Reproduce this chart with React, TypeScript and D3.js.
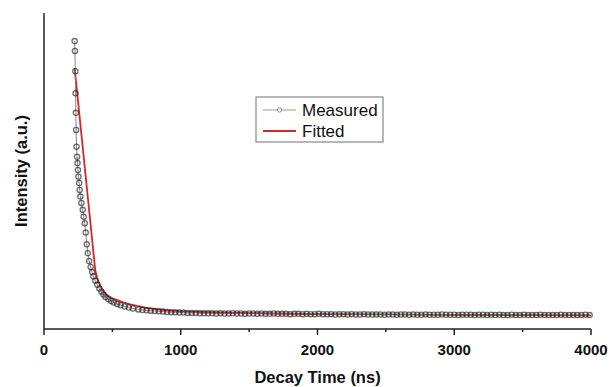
import React from 'react';
import * as d3 from 'd3';

// measured decay, steep part read point by point (ns, a.u.)
const measuredTime = [
  224, 226, 229, 231, 233, 235, 238, 242, 245, 248, 252, 257, 261, 266, 273, 283, 290, 298,
  305, 313, 320, 330, 341, 352, 361, 375, 390, 405, 420, 435, 450, 470, 490, 510, 535, 560,
  590, 620, 650, 690,
];
const measuredIntensity = [
  0.911, 0.880, 0.816, 0.746, 0.684, 0.630, 0.577, 0.545, 0.525, 0.503, 0.482, 0.462, 0.440,
  0.419, 0.399, 0.377, 0.355, 0.335, 0.305, 0.268, 0.240, 0.215, 0.196, 0.180, 0.166, 0.153,
  0.140, 0.128, 0.118, 0.109, 0.101, 0.095, 0.089, 0.084, 0.079, 0.075, 0.071, 0.068, 0.065,
  0.062,
];

// flat tail, one value per 30 ns channel starting at 720 ns
const tailStart = 720;
const tailStep = 30;
const tailIntensity = [
  0.060, 0.059, 0.058, 0.057, 0.056, 0.055, 0.054, 0.053, 0.053, 0.052,
  0.052, 0.051, 0.051, 0.051, 0.050, 0.050, 0.050, 0.050, 0.049, 0.050,
  0.049, 0.049, 0.050, 0.049, 0.049, 0.048, 0.049, 0.049, 0.048, 0.049,
  0.048, 0.048, 0.049, 0.048, 0.048, 0.048, 0.047, 0.048, 0.048, 0.047,
  0.048, 0.047, 0.047, 0.048, 0.047, 0.047, 0.047, 0.046, 0.047, 0.047,
  0.046, 0.047, 0.046, 0.046, 0.047, 0.046, 0.046, 0.046, 0.046, 0.045,
  0.046, 0.046, 0.045, 0.046, 0.046, 0.045, 0.046, 0.045, 0.045, 0.046,
  0.045, 0.045, 0.045, 0.046, 0.045, 0.045, 0.045, 0.044, 0.045, 0.045,
  0.045, 0.044, 0.045, 0.045, 0.044, 0.045, 0.044, 0.045, 0.044, 0.044,
  0.045, 0.044, 0.044, 0.045, 0.044, 0.044, 0.044, 0.045, 0.044, 0.044,
  0.044, 0.044, 0.045, 0.044, 0.044, 0.044, 0.044, 0.044, 0.045, 0.044,
];

const fittedTime = [
  224, 375, 390, 405, 420, 440, 460, 490, 530, 580, 630, 680, 750, 830, 920, 1050, 1200, 1400,
  1700, 2000, 2500, 3000, 3500, 4000,
];
const fittedIntensity = [
  0.826, 0.185, 0.160, 0.143, 0.130, 0.117, 0.108, 0.099, 0.092, 0.084, 0.078, 0.073, 0.067,
  0.062, 0.058, 0.055, 0.053, 0.051, 0.049, 0.047, 0.046, 0.045, 0.044, 0.043,
];

const majorTicks = [0, 1000, 2000, 3000, 4000];
const minorTicks = [500, 1500, 2500, 3500];

const width = 613;
const height = 387;

const App = () => {
  const x = d3.scaleLinear().domain([0, 4000]).range([44, 591]);
  const y = d3.scaleLinear().domain([0, 1]).range([329, 13]);

  const measured: [number, number][] = measuredTime.map((t, i) => [t, measuredIntensity[i]]);
  tailIntensity.forEach((v, i) => measured.push([tailStart + i * tailStep, v]));
  const fitted: [number, number][] = fittedTime.map((t, i) => [t, fittedIntensity[i]]);

  const line = d3
    .line<[number, number]>()
    .x((d) => x(d[0]))
    .y((d) => y(d[1]));

  const font = 'Liberation Sans, Arial, Helvetica, sans-serif';

  return (
    <svg
      width={width}
      height={height}
      style={{ position: 'absolute', left: 0, top: 0, background: '#fff' }}
    >
      {/* axes */}
      <line x1={x(0)} x2={x(0)} y1={13} y2={y(0)} stroke="#222" strokeWidth={1.5} />
      <line x1={x(0)} x2={x(4000)} y1={y(0)} y2={y(0)} stroke="#222" strokeWidth={1.5} />
      {majorTicks.map((t) => (
        <g key={t}>
          <line x1={x(t)} x2={x(t)} y1={y(0)} y2={y(0) + 6} stroke="#222" strokeWidth={1.5} />
          <text
            x={x(t)}
            y={355}
            textAnchor="middle"
            fontFamily={font}
            fontWeight="bold"
            fontSize={15}
            fill="#111"
          >
            {t}
          </text>
        </g>
      ))}
      {minorTicks.map((t) => (
        <line key={t} x1={x(t)} x2={x(t)} y1={y(0)} y2={y(0) + 3} stroke="#222" strokeWidth={1.5} />
      ))}
      <text
        x={(x(0) + x(4000)) / 2}
        y={383}
        textAnchor="middle"
        fontFamily={font}
        fontWeight="bold"
        fontSize={16.5}
        fill="#111"
      >
        Decay Time (ns)
      </text>
      <text
        transform={`translate(27, ${(13 + y(0)) / 2}) rotate(-90)`}
        textAnchor="middle"
        fontFamily={font}
        fontWeight="bold"
        fontSize={16.5}
        fill="#111"
      >
        Intensity (a.u.)
      </text>

      {/* fitted */}
      <path d={line(fitted) || ''} fill="none" stroke="#d42828" strokeWidth={1.8} />

      {/* measured */}
      <path d={line(measured) || ''} fill="none" stroke="#777" strokeWidth={0.9} />
      {measured.map((d, i) => (
        <circle
          key={i}
          cx={x(d[0])}
          cy={y(d[1])}
          r={2.6}
          fill="none"
          stroke="#222"
          strokeOpacity={0.65}
          strokeWidth={1.3}
        />
      ))}

      {/* legend */}
      <rect x={256} y={97} width={127} height={45} fill="#fff" stroke="#888" strokeWidth={1.2} />
      <line x1={263} x2={296} y1={110} y2={110} stroke="#999" strokeWidth={1} />
      <circle cx={279.5} cy={110} r={2.2} fill="#fff" stroke="#888" strokeWidth={0.9} />
      <text x={302} y={116} fontFamily={font} fontSize={17} fill="#111">
        Measured
      </text>
      <line x1={263} x2={296} y1={131} y2={131} stroke="#d42828" strokeWidth={1.8} />
      <text x={302} y={137} fontFamily={font} fontSize={17} fill="#111">
        Fitted
      </text>
    </svg>
  );
};

export default App;
